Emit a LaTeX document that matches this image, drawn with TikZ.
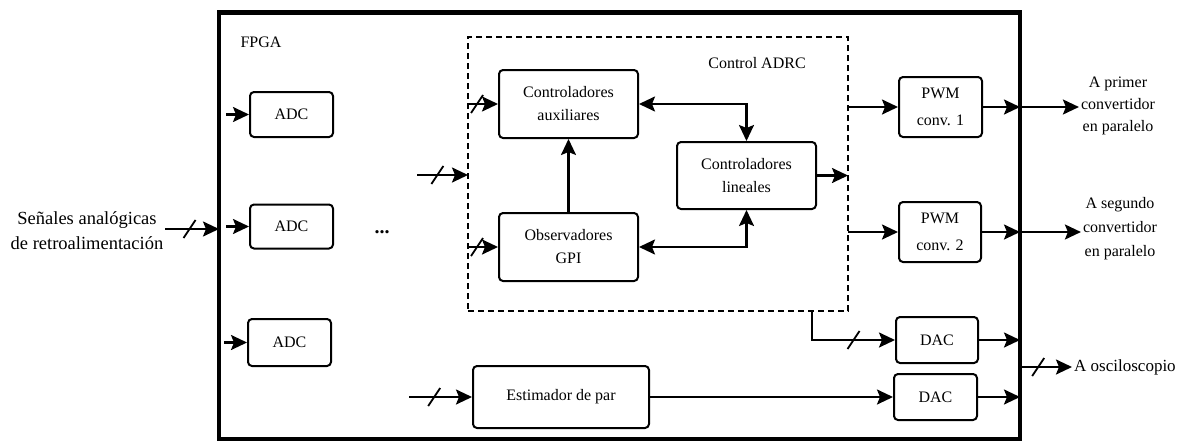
\documentclass[tikz,border=0pt]{standalone}
\usepackage{fontspec}
\setmainfont{Liberation Serif}
\newfontfamily\tnr{Liberation Serif}
\usetikzlibrary{arrows.meta,calc}
\tikzset{
  blk/.style={draw, line width=2pt, rounded corners=4pt, align=center, inner sep=2pt},
  tip/.tip={Stealth[length=16pt,width=15pt,inset=3pt]},
  arr/.style={line width=2.2pt, -tip},
  arrb/.style={line width=2.2pt, tip-tip},
  lbl/.style={align=center, inner sep=2pt},
  slash/.pic={\draw[-, line width=1.8pt] (-6pt,-9pt) -- (6pt,9pt);}
}
\begin{document}
\begin{tikzpicture}[x=1pt, y=-1pt, font=\tnr\fontsize{16}{23}\selectfont]
\useasboundingbox (0,0) rectangle (1184,442);
% outer FPGA
\node[draw, line width=4.8pt, outer sep=0pt, minimum width=801pt, minimum height=426.5pt] (fpga) at (619.5,225.75) {};
\node[lbl] (fpgat) at (261,42) {FPGA};
% dashed ADRC
\node[draw, dashed, dash pattern=on 6pt off 4pt, line width=1.8pt, outer sep=0pt, minimum width=380pt, minimum height=274pt] (adrc) at (658,174) {};
\node[lbl] (adrct) at (757,63) {Control ADRC};
% blocks
\node[blk, minimum width=83pt, minimum height=45pt] (adc1) at (291.5,114.5) {ADC};
\node[blk, minimum width=83pt, minimum height=44pt] (adc2) at (291.5,226.5) {ADC};
\node[blk, minimum width=83pt, minimum height=47pt] (adc3) at (289.5,342.5) {ADC};
\node[blk, minimum width=139pt, minimum height=68pt] (aux) at (568.5,104) {Controladores\\auxiliares};
\node[blk, minimum width=139pt, minimum height=68pt] (gpi) at (568.5,247) {Observadores\\GPI};
\node[blk, minimum width=139pt, minimum height=67pt] (lin) at (746.5,175.5) {Controladores\\lineales};
\node[blk, minimum width=83pt, minimum height=60pt, font=\tnr\fontsize{16}{27}\selectfont] (pwm1) at (940.5,107) {PWM\\conv. 1};
\node[blk, minimum width=82pt, minimum height=60pt, font=\tnr\fontsize{16}{27}\selectfont] (pwm2) at (940,232) {PWM\\conv. 2};
\node[blk, minimum width=82pt, minimum height=46pt] (dac1) at (937,340) {DAC};
\node[blk, minimum width=83pt, minimum height=46pt] (dac2) at (935.5,397) {DAC};
\node[blk, minimum width=176pt, minimum height=62pt] (est) at (561,397) {Estimador de par};
\node[lbl, font=\tnr\fontsize{20}{23}\selectfont] (dots) at (382,232) {\textbf{...}};
% outside texts
\node[lbl, font=\tnr\fontsize{18.5}{25}\selectfont] (sen) at (87,231) {Señales analógicas\\de retroalimentación};
\node[lbl, font=\tnr\fontsize{16}{22}\selectfont] (o1) at (1118,106) {A primer\\convertidor\\en paralelo};
\node[lbl, font=\tnr\fontsize{16}{24}\selectfont] (o2) at (1120,229) {A segundo\\convertidor\\en paralelo};
\node[lbl, anchor=west, font=\tnr\fontsize{17}{20}\selectfont] (osc) at (1072,367) {A osciloscopio};
% coordinates for free ends
\coordinate (in3) at (417,175);
\coordinate (in4) at (409,397);
\coordinate (tap) at (812,311);
% connectors
\draw[arr] (sen.east |- 0,229) -- pic[pos=.45]{slash} (fpga.west |- 0,229);
\draw[arr] ($(adc1.west)+(-23,0)$) -- (adc1.west);
\draw[arr] ($(adc2.west)+(-23,0)$) -- (adc2.west);
\draw[arr] ($(adc3.west)+(-23,0)$) -- (adc3.west);
\draw[arr] (in3) -- pic[pos=.4]{slash} (in3 -| adrc.west);
\draw[arr] (aux.west -| adrc.west) -- pic[pos=.3]{slash} (aux.west);
\draw[arr] (gpi.west -| adrc.west) -- pic[pos=.3]{slash} (gpi.west);
\draw[arr] (gpi.north) -- (aux.south);
\draw[arrb] (aux.east) -| (lin.north);
\draw[arrb] (gpi.east) -| (lin.south);
\draw[arr] (lin.east) -- (lin.east -| adrc.east);
\draw[arr] (pwm1.west -| adrc.east) -- (pwm1.west);
\draw[arr] (pwm2.west -| adrc.east) -- (pwm2.west);
\draw[arr] (pwm1.east) -- (pwm1.east -| fpga.east);
\draw[arr] (pwm2.east) -- (pwm2.east -| fpga.east);
\draw[arr] (pwm1.east -| fpga.east) -- (o1.west |- pwm1.east);
\draw[arr] (pwm2.east -| fpga.east) -- (o2.west |- pwm2.east);
\draw[arr] (tap) |- pic[pos=.75]{slash} (dac1.west);
\draw[arr] (in4) -- pic[pos=.4]{slash} (est.west);
\draw[arr] (est.east) -- (dac2.west);
\draw[arr] (dac1.east) -- (dac1.east -| fpga.east);
\draw[arr] (dac2.east) -- (dac2.east -| fpga.east);
\draw[arr] (osc.west -| fpga.east) -- pic[pos=.35]{slash} (osc.west);
\end{tikzpicture}
\end{document}
